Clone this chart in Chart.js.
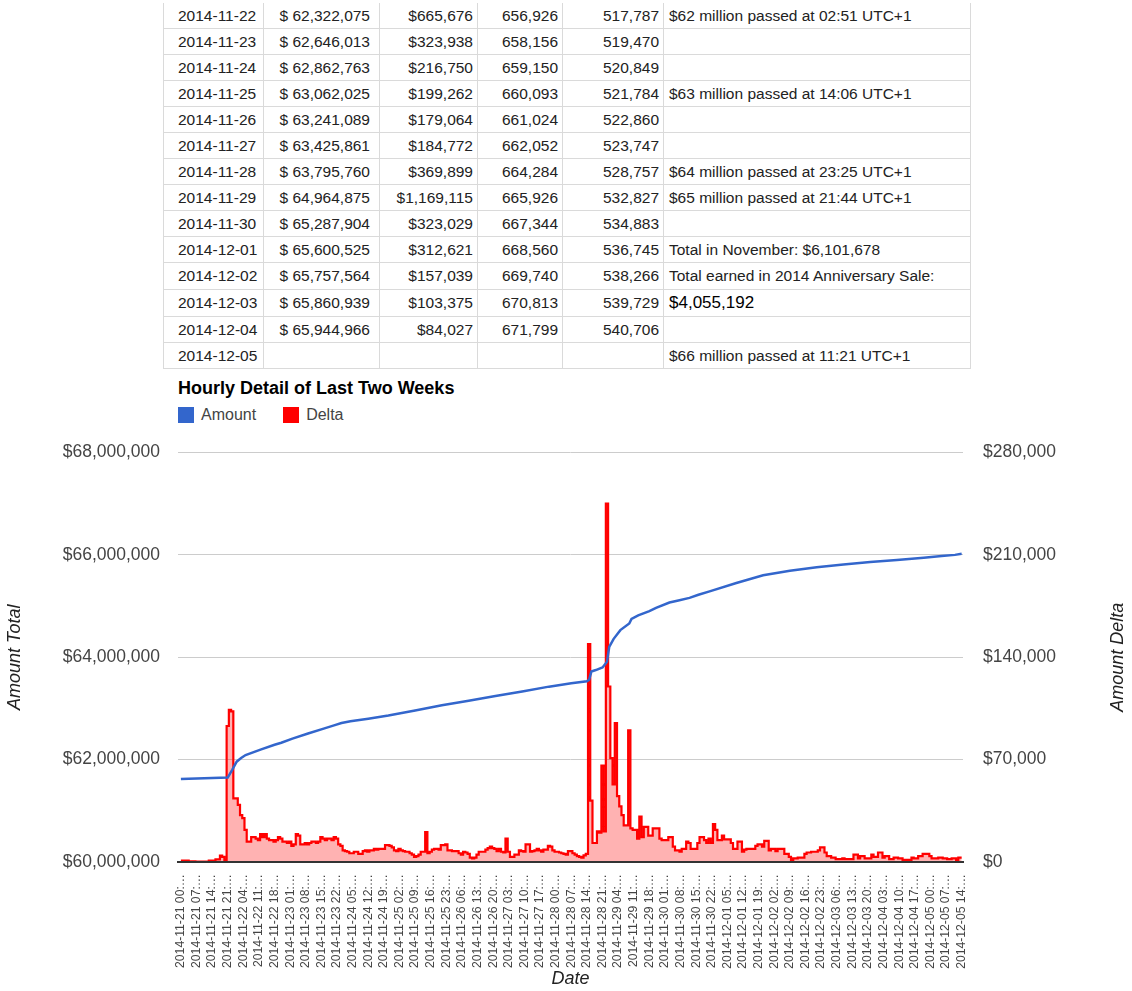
<!DOCTYPE html>
<html>
<head>
<meta charset="utf-8">
<script src="https://cdn.jsdelivr.net/npm/chart.js@4.4.1/dist/chart.umd.min.js"></script>
<style>
  body { margin: 0; background: #fff; font-family: Arial, "Liberation Sans", sans-serif; }
  #page { position: relative; width: 1132px; height: 991px; overflow: hidden; }
  #dailyTable { position: absolute; left: 163px; top: 3px; border-collapse: collapse; font-size: 15.5px; color: #222; table-layout: fixed; }
  #dailyTable td { border: 1px solid #dadada; height: 25px; padding: 0 4px; white-space: nowrap; }
  #dailyTable tr:first-child td { border-top: none; }
  #dailyTable td.date { padding-left: 14px; }
  #dailyTable td.num { text-align: right; }
  #dailyTable td.amt { padding-right: 9px; }
  #dailyTable td.note { padding-left: 5px; }
  #dailyTable td.big { font-size: 17px; color: #000; }
  #dailyTable tr.tall td { height: 26px; }
  #chartTitle { position: absolute; left: 178px; top: 379px; font-size: 18px; line-height: 18px; font-weight: bold; color: #000; }
  #legend { position: absolute; left: 178px; top: 406px; display: flex; font-size: 16px; color: #444; line-height: 18px; }
  #legend .item { display: flex; align-items: center; margin-right: 27px; }
  #legend .box { width: 16px; height: 16px; margin-right: 7px; }
  #chartWrap { position: absolute; left: 0; top: 422px; width: 1132px; height: 569px; }
</style>
</head>
<body>
<div id="page">
  <table id="dailyTable">
    <colgroup>
      <col style="width:100px"><col style="width:116px"><col style="width:98px">
      <col style="width:85px"><col style="width:101px"><col style="width:307px">
    </colgroup>
    <tbody></tbody>
  </table>
  <div id="chartTitle">Hourly Detail of Last Two Weeks</div>
  <div id="legend"></div>
  <div id="chartWrap"><canvas id="hourlyDetail"></canvas></div>
</div>
<script>
// daily table
const tableDates = ['2014-11-22', '2014-11-23', '2014-11-24', '2014-11-25', '2014-11-26', '2014-11-27', '2014-11-28',
  '2014-11-29', '2014-11-30', '2014-12-01', '2014-12-02', '2014-12-03', '2014-12-04', '2014-12-05'];
const tableAmounts = [62322075, 62646013, 62862763, 63062025, 63241089, 63425861, 63795760,
  64964875, 65287904, 65600525, 65757564, 65860939, 65944966, null];
const tableDeltas = [665676, 323938, 216750, 199262, 179064, 184772, 369899,
  1169115, 323029, 312621, 157039, 103375, 84027, null];
const tableCountA = [656926, 658156, 659150, 660093, 661024, 662052, 664284,
  665926, 667344, 668560, 669740, 670813, 671799, null];
const tableCountB = [517787, 519470, 520849, 521784, 522860, 523747, 528757,
  532827, 534883, 536745, 538266, 539729, 540706, null];
const tableNotes = ['$62 million passed at 02:51 UTC+1', '', '', '$63 million passed at 14:06 UTC+1', '', '',
  '$64 million passed at 23:25 UTC+1', '$65 million passed at 21:44 UTC+1', '', 'Total in November: $6,101,678',
  'Total earned in 2014 Anniversary Sale:', '$4,055,192', '', '$66 million passed at 11:21 UTC+1'];

// hourly delta, one value per hour starting 2014-11-21 00:00
const deltaValues = [
  // 11-21
  900, 900, 900, 900, 500, 500, 500, 300, 300, 300, 300, 300, 300, 900, 900, 900, 1800, 1800, 4300, 3500, 1000, 93000, 104000, 103000,
  // 11-22
  43500, 43500, 39000, 32000, 30000, 22000, 14000, 14000, 17000, 17000, 16000, 15000, 19000, 17000, 19000, 16000, 15000, 15000, 14000, 15000, 17000, 16000, 14000, 14000,
  // 11-23
  13000, 14000, 11000, 12000, 19000, 18000, 12000, 12000, 13000, 12000, 13000, 14000, 14000, 13000, 14000, 17000, 16000, 15000, 16000, 16000, 15000, 17000, 16000, 12000,
  // 11-24
  11000, 8000, 7500, 7000, 6000, 6000, 7000, 7000, 5500, 5500, 7500, 8000, 7000, 8000, 8000, 9000, 8500, 9000, 9000, 9000, 11500, 11500, 11000, 10000,
  // 11-25
  8000, 7500, 9000, 8000, 7500, 7000, 7000, 6000, 5000, 3500, 4000, 5000, 7000, 7000, 20500, 6000, 7000, 8500, 9000, 9000, 8500, 11500, 11500, 12000,
  // 11-26
  8000, 8000, 7500, 7500, 7500, 6000, 5000, 7000, 6500, 5500, 3000, 2500, 3000, 5000, 7000, 7000, 7000, 8500, 9500, 10500, 9500, 9000, 7500, 9000,
  // 11-27
  7000, 6500, 16000, 7000, 3500, 3500, 5000, 5000, 8000, 7500, 7000, 12000, 12000, 7000, 7500, 8000, 9000, 8000, 7000, 8500, 8500, 11000, 10500, 8000,
  // 11-28
  7000, 7000, 6500, 6000, 5500, 5000, 7500, 7500, 6000, 5000, 4000, 3500, 3000, 4500, 5500, 149000, 42000, 13000, 13000, 21000, 20000, 66000, 21000, 245000,
  // 11-29
  120000, 71000, 53000, 95000, 45000, 38000, 32000, 25000, 25000, 90000, 23000, 22000, 22000, 16000, 31000, 17000, 24000, 24000, 18000, 18000, 23000, 23000, 23000, 16000,
  // 11-30
  15000, 15000, 15000, 17000, 17000, 10500, 8000, 8000, 7000, 9000, 9000, 14000, 13000, 9000, 9000, 9000, 13000, 17000, 17000, 15000, 13000, 16000, 13000, 26000,
  // 12-01
  22000, 15000, 15000, 18000, 15500, 15500, 15500, 13000, 9000, 9000, 14000, 14000, 7000, 8500, 9000, 9000, 9000, 9000, 11000, 12000, 12000, 10500, 14500, 14500,
  // 12-02
  8000, 9000, 9000, 7500, 9000, 9000, 9000, 5500, 5500, 3500, 1500, 2500, 2500, 3000, 3000, 3000, 5500, 6500, 6500, 7000, 7000, 7000, 8000, 10000,
  // 12-03
  10000, 6500, 4000, 4000, 3000, 3000, 2000, 2000, 2000, 2500, 2000, 2000, 2000, 2000, 5000, 5000, 2500, 4000, 4000, 2500, 2500, 2500, 5000, 3500,
  // 12-04
  3500, 6500, 6500, 3000, 4000, 4000, 2000, 2000, 3000, 3000, 2500, 2500, 1500, 1500, 1500, 1500, 3000, 2500, 2500, 4000, 4000, 5500, 5500, 5500,
  // 12-05
  4000, 2500, 2500, 2500, 3000, 3000, 2500, 2500, 2000, 2000, 2500, 2500, 1000, 3000, 3000
];

// running total, read at these hours (hours since 2014-11-21 00:00)
const amountHours = [0, 21, 23, 25, 27, 29, 36, 42, 45, 50, 57, 64, 69, 72, 76, 84, 93, 105, 117, 129, 141, 153, 165,
  175, 182, 183, 184, 186, 189, 191, 192, 194, 197, 201, 202, 205, 210, 213, 219, 223, 228, 232, 237,
  249, 261, 273, 285, 297, 309, 321, 333, 341, 347, 350];
const amountValues = [61620000, 61650000, 61800000, 61960000, 62030000, 62090000, 62200000, 62290000, 62330000,
  62410000, 62510000, 62605000, 62675000, 62715000, 62750000, 62800000, 62862763, 62960000, 63062025, 63150000,
  63241089, 63330000, 63425861, 63490000, 63530000, 63560000, 63720000, 63750000, 63800000, 63910000, 64200000,
  64360000, 64530000, 64660000, 64750000, 64820000, 64900000, 64964875, 65070000, 65110000, 65160000, 65220000,
  65287904, 65450000, 65600525, 65690000, 65757564, 65810000, 65860939, 65900000, 65944966, 65980000, 66000000, 66020000];

// x tick labels, every 7 hours
const xTickLabels = [
  '2014-11-21 00:…', '2014-11-21 07:…', '2014-11-21 14:…', '2014-11-21 21:…', '2014-11-22 04:…', '2014-11-22 11:…',
  '2014-11-22 18:…', '2014-11-23 01:…', '2014-11-23 08:…', '2014-11-23 15:…', '2014-11-23 22:…', '2014-11-24 05:…',
  '2014-11-24 12:…', '2014-11-24 19:…', '2014-11-25 02:…', '2014-11-25 09:…', '2014-11-25 16:…', '2014-11-25 23:…',
  '2014-11-26 06:…', '2014-11-26 13:…', '2014-11-26 20:…', '2014-11-27 03:…', '2014-11-27 10:…', '2014-11-27 17:…',
  '2014-11-28 00:…', '2014-11-28 07:…', '2014-11-28 14:…', '2014-11-28 21:…', '2014-11-29 04:…', '2014-11-29 11:…',
  '2014-11-29 18:…', '2014-11-30 01:…', '2014-11-30 08:…', '2014-11-30 15:…', '2014-11-30 22:…', '2014-12-01 05:…',
  '2014-12-01 12:…', '2014-12-01 19:…', '2014-12-02 02:…', '2014-12-02 09:…', '2014-12-02 16:…', '2014-12-02 23:…',
  '2014-12-03 06:…', '2014-12-03 13:…', '2014-12-03 20:…', '2014-12-04 03:…', '2014-12-04 10:…', '2014-12-04 17:…',
  '2014-12-05 00:…', '2014-12-05 07:…', '2014-12-05 14:…'
];
const TICK_HOURS = 7;

const BLUE = '#3366cc';
const RED = '#ff0000';
const FONT = 'Arial, "Liberation Sans", sans-serif';

const fmtUsd = (v) => '$' + Number(v).toLocaleString('en-US');

// build the table
const tbody = document.querySelector('#dailyTable tbody');
tableDates.forEach((d, i) => {
  const tr = document.createElement('tr');
  if (i === 10 || i === 11) tr.className = 'tall';
  const cells = [
    [d, 'date'],
    [tableAmounts[i] == null ? '' : '$ ' + tableAmounts[i].toLocaleString('en-US'), 'num amt'],
    [tableDeltas[i] == null ? '' : fmtUsd(tableDeltas[i]), 'num'],
    [tableCountA[i] == null ? '' : tableCountA[i].toLocaleString('en-US'), 'num'],
    [tableCountB[i] == null ? '' : tableCountB[i].toLocaleString('en-US'), 'num'],
    [tableNotes[i], i === 11 ? 'note big' : 'note']
  ];
  cells.forEach(([text, cls]) => {
    const td = document.createElement('td');
    td.className = cls;
    td.textContent = text;
    tr.appendChild(td);
  });
  tbody.appendChild(tr);
});

// right axis title reads bottom-to-top like the left one
const rightTitle = {
  id: 'rightTitle',
  afterDraw(chart) {
    const { ctx, chartArea } = chart;
    ctx.save();
    ctx.translate(chart.width - 14, (chartArea.top + chartArea.bottom) / 2);
    ctx.rotate(-Math.PI / 2);
    ctx.font = 'italic 18px ' + FONT;
    ctx.fillStyle = '#222';
    ctx.textAlign = 'center';
    ctx.textBaseline = 'middle';
    ctx.fillText('Amount Delta', 0, 0);
    ctx.restore();
  }
};

Chart.defaults.font.family = FONT;
Chart.defaults.color = '#444';

const chart = new Chart(document.getElementById('hourlyDetail'), {
  type: 'line',
  data: {
    datasets: [
      {
        label: 'Amount',
        data: amountHours.map((h, i) => ({ x: h, y: amountValues[i] })),
        yAxisID: 'y',
        borderColor: BLUE,
        backgroundColor: BLUE,
        borderWidth: 2.5,
        pointRadius: 0,
        tension: 0,
        fill: false
      },
      {
        label: 'Delta',
        data: deltaValues.map((v, i) => ({ x: i, y: v })),
        yAxisID: 'y1',
        borderColor: RED,
        backgroundColor: 'rgba(255, 0, 0, 0.3)',
        borderWidth: 2.2,
        pointRadius: 0,
        stepped: 'middle',
        fill: 'origin'
      }
    ]
  },
  options: {
    responsive: true,
    maintainAspectRatio: false,
    animation: false,
    layout: { padding: { top: 14, left: 0, right: 0, bottom: 0 } },
    plugins: {
      legend: { display: false },
      tooltip: { enabled: false },
      title: { display: false }
    },
    scales: {
      x: {
        type: 'linear',
        min: -1.3,
        max: 350.6,
        grid: { display: false, drawTicks: false },
        border: { display: true, color: '#333', width: 2, z: 1 },
        ticks: {
          stepSize: TICK_HOURS,
          includeBounds: false,
          autoSkip: false,
          minRotation: 90,
          maxRotation: 90,
          padding: 12,
          color: '#444',
          font: { size: 12.2 },
          callback: (v) => xTickLabels[Math.round(v / TICK_HOURS)] || ''
        },
        title: {
          display: true,
          text: 'Date',
          color: '#222',
          font: { size: 18, style: 'italic' },
          padding: { top: 0, bottom: 1 }
        },
        afterFit: (s) => { s.height = 129; }
      },
      y: {
        position: 'left',
        min: 60000000,
        max: 68000000,
        grid: { color: '#cccccc', drawTicks: false },
        border: { display: false },
        ticks: {
          stepSize: 2000000,
          padding: 18,
          color: '#444',
          font: { size: 17.5 },
          callback: fmtUsd
        },
        title: {
          display: true,
          text: 'Amount Total',
          color: '#222',
          font: { size: 18, style: 'italic' }
        },
        afterFit: (s) => { s.width = 178; }
      },
      y1: {
        position: 'right',
        min: 0,
        max: 280000,
        grid: { drawOnChartArea: false, drawTicks: false },
        border: { display: false },
        ticks: {
          stepSize: 70000,
          padding: 20,
          color: '#444',
          font: { size: 17.5 },
          callback: fmtUsd
        },
        afterFit: (s) => { s.width = 169; }
      }
    }
  },
  plugins: [rightTitle]
});

// html legend from the datasets
const legend = document.getElementById('legend');
chart.data.datasets.forEach((ds) => {
  const item = document.createElement('div');
  item.className = 'item';
  const box = document.createElement('span');
  box.className = 'box';
  box.style.background = ds.borderColor;
  const label = document.createElement('span');
  label.textContent = ds.label;
  item.appendChild(box);
  item.appendChild(label);
  legend.appendChild(item);
});
</script>
</body>
</html>
